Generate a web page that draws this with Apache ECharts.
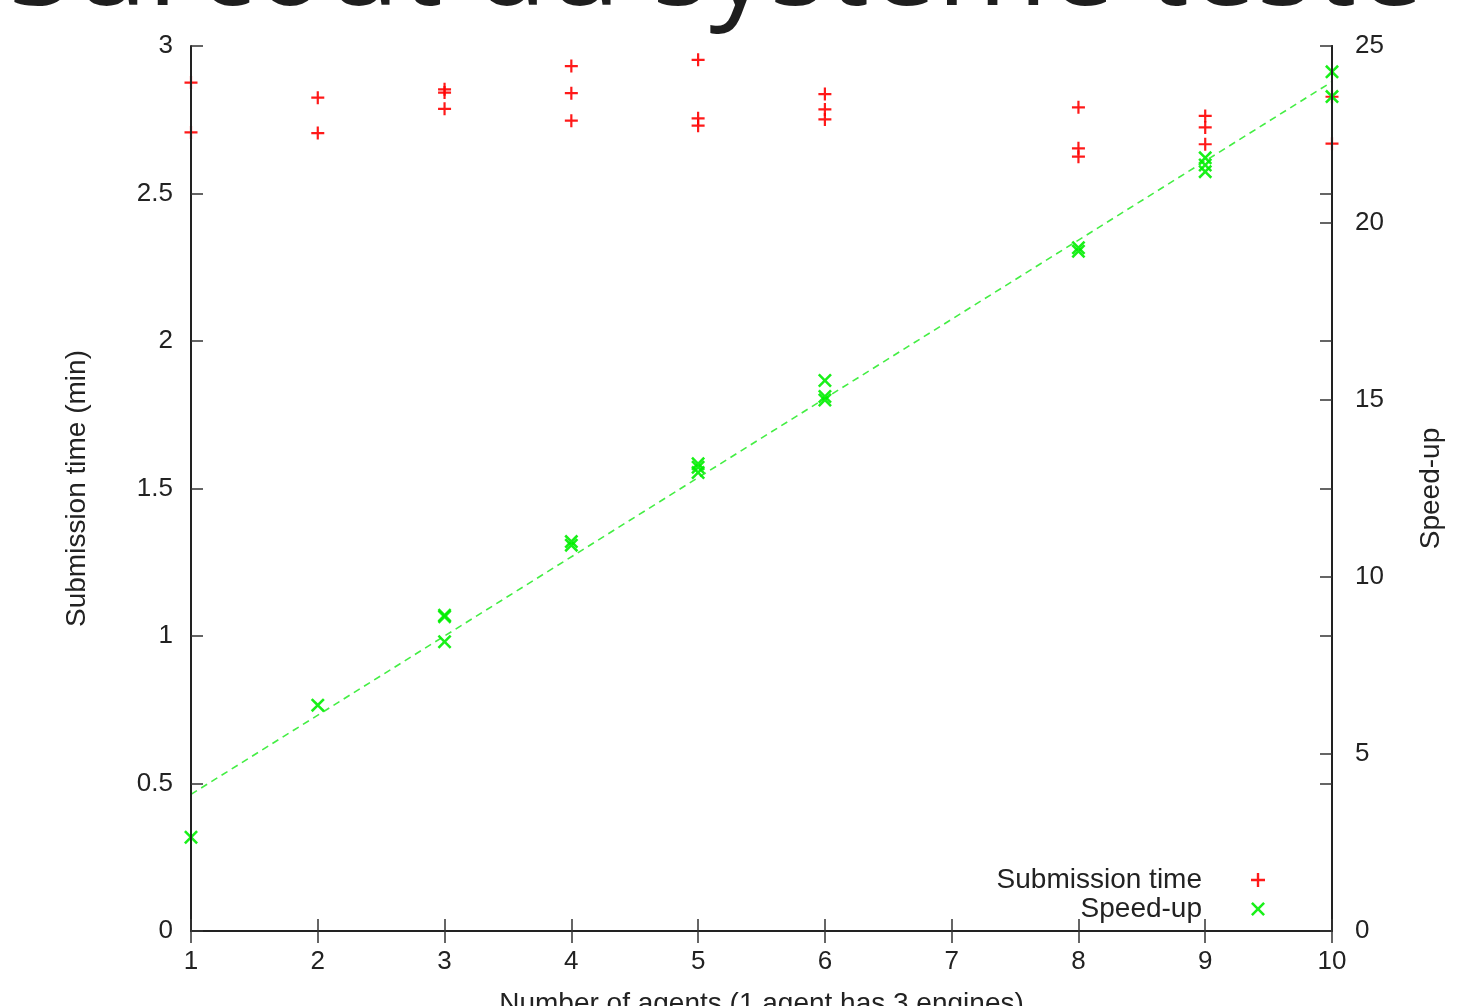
<!DOCTYPE html>
<html>
<head>
<meta charset="utf-8">
<script src="https://cdn.jsdelivr.net/npm/echarts@6/dist/echarts.min.js"></script>
<style>
html,body{margin:0;padding:0;background:#fff;}
#chart{width:1463px;height:1006px;}
</style>
</head>
<body>
<div id="chart"></div>
<script>
// ---- data ----
const pageTitle = 'Surcoût du système testé';
const xTitle = 'Number of agents (1 agent has 3 engines)';
const yLeftTitle = 'Submission time (min)';
const yRightTitle = 'Speed-up';
const seriesNames = ['Submission time', 'Speed-up'];

// Submission time (min), left axis
const subAgents = [1, 1, 2, 2, 3, 3, 3, 4, 4, 4, 5, 5, 5, 6, 6, 6, 8, 8, 8, 9, 9, 9, 10, 10];
const subTime   = [2.876, 2.707, 2.825, 2.705, 2.853, 2.842, 2.787, 2.932, 2.840, 2.747,
                   2.953, 2.755, 2.730, 2.837, 2.785, 2.751, 2.792, 2.653, 2.625,
                   2.763, 2.724, 2.667, 2.828, 2.669];

// Speed-up, right axis
const speedAgents = [1, 2, 3, 3, 3, 4, 4, 5, 5, 5, 6, 6, 6, 8, 8, 9, 9, 9, 10, 10];
const speedUp     = [2.65, 6.38, 8.92, 8.88, 8.17, 11.0, 10.9, 13.2, 13.1, 12.95,
                     15.55, 15.1, 15.0, 19.3, 19.2, 21.84, 21.64, 21.45, 24.27, 23.57];

// dashed trend line (end points), right axis
const fitAgents = [1, 10];
const fitSpeed  = [3.86, 23.99];

// ---- chart ----
const FONT = '"Liberation Sans", Arial, Helvetica, sans-serif';
const TXT = '#222';
const plusPath = 'path://M-1.1,-6.5H1.1V-1.1H6.5V1.1H1.1V6.5H-1.1V1.1H-6.5V-1.1H-1.1Z';
const a = 1.8;
const crossPath = 'path://M' + (-7 + a) + ',-7L0,' + (-a) + 'L' + (7 - a) + ',-7L7,' + (-7 + a) +
  'L' + a + ',0L7,' + (7 - a) + 'L' + (7 - a) + ',7L0,' + a + 'L' + (-7 + a) + ',7L-7,' + (7 - a) +
  'L' + (-a) + ',0L-7,' + (-7 + a) + 'Z';

const zip = (xs, ys) => xs.map((x, i) => [x, ys[i]]);

const axisLineStyle = { show: true, lineStyle: { color: '#222', width: 2 } };
const tickStyle = { show: true, inside: true, length: 12, lineStyle: { color: '#333', width: 1.5 } };
const labelStyle = { color: TXT, fontSize: 26, fontFamily: FONT };
const nameStyle = { color: TXT, fontSize: 28, fontFamily: FONT };

const chart = echarts.init(document.getElementById('chart'), null, { renderer: 'canvas' });
chart.setOption({
  animation: false,
  backgroundColor: '#fff',
  grid: { left: 191, right: 131, top: 46, bottom: 75, containLabel: false, outerBoundsMode: 'none' },
  graphic: [{
    type: 'text',
    x: 716, y: -29,
    z: 100,
    style: {
      text: pageTitle,
      font: '120px "Open Sans", "Noto Sans", sans-serif',
      fill: '#1e1e1e',
      textAlign: 'center',
      textVerticalAlign: 'middle'
    }
  }],
  legend: {
    data: seriesNames,
    orient: 'vertical',
    align: 'right',
    right: 193,
    top: 861,
    itemWidth: 102,
    itemHeight: 14,
    itemGap: 1,
    selectedMode: false,
    textStyle: { color: TXT, fontSize: 28, fontFamily: FONT, lineHeight: 20 }
  },
  xAxis: [{
    type: 'value', min: 1, max: 10, interval: 1, position: 'bottom', z: 10,
    name: xTitle, nameLocation: 'middle', nameGap: 59,
    nameTextStyle: nameStyle,
    axisLine: axisLineStyle, axisTick: tickStyle,
    axisLabel: Object.assign({ margin: 18 }, labelStyle),
    splitLine: { show: false }
  }, {
    type: 'value', min: 1, max: 10, interval: 1, position: 'top', z: 10,
    axisLine: axisLineStyle, axisTick: tickStyle,
    axisLabel: { show: false }, splitLine: { show: false }
  }],
  yAxis: [{
    type: 'value', min: 0, max: 3, interval: 0.5, position: 'left', z: 10,
    name: yLeftTitle, nameLocation: 'middle', nameGap: 100, nameRotate: 90,
    nameTextStyle: nameStyle,
    axisLine: axisLineStyle, axisTick: tickStyle,
    axisLabel: Object.assign({ margin: 18 }, labelStyle),
    splitLine: { show: false }
  }, {
    type: 'value', min: 0, max: 25, interval: 5, position: 'right', z: 10,
    name: yRightTitle, nameLocation: 'middle', nameGap: 85, nameRotate: 90,
    nameTextStyle: nameStyle,
    axisLine: axisLineStyle, axisTick: tickStyle,
    axisLabel: Object.assign({ margin: 23 }, labelStyle),
    splitLine: { show: false }
  }, {
    type: 'value', min: 0, max: 3, interval: 0.5, position: 'right', z: 10,
    axisLine: axisLineStyle, axisTick: tickStyle,
    axisLabel: { show: false }, splitLine: { show: false }
  }],
  series: [{
    name: 'fit',
    type: 'line',
    xAxisIndex: 0, yAxisIndex: 1,
    data: zip(fitAgents, fitSpeed),
    symbol: 'none',
    silent: true,
    lineStyle: { color: '#44ee44', width: 1.6, type: [7, 5] },
    z: 2
  }, {
    name: seriesNames[0],
    type: 'scatter',
    xAxisIndex: 0, yAxisIndex: 0,
    data: zip(subAgents, subTime),
    symbol: plusPath,
    symbolSize: 13,
    clip: false,
    itemStyle: { color: '#ff0000', opacity: 0.9 },
    z: 3
  }, {
    name: seriesNames[1],
    type: 'scatter',
    xAxisIndex: 0, yAxisIndex: 1,
    data: zip(speedAgents, speedUp),
    symbol: crossPath,
    symbolSize: 14,
    clip: false,
    itemStyle: { color: '#00ee00', opacity: 0.9 },
    z: 4
  }]
});
</script>
</body>
</html>
